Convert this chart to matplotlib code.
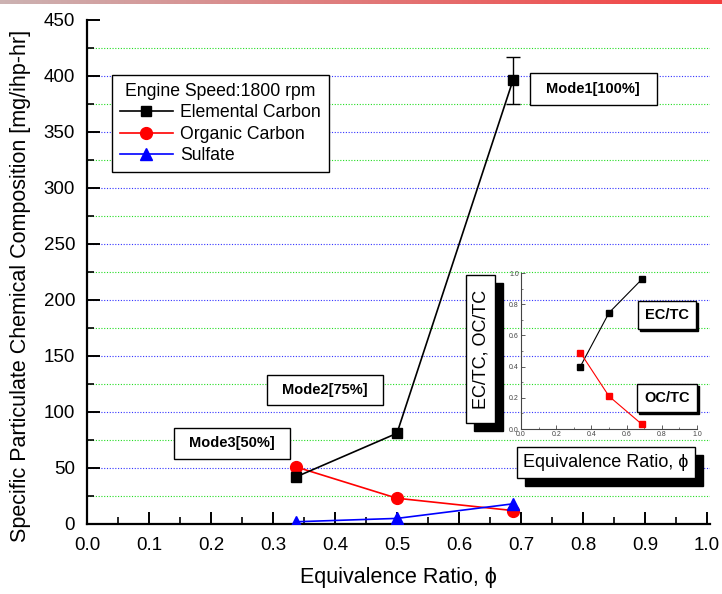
import numpy as np
import matplotlib
matplotlib.use("Agg")
import matplotlib.pyplot as plt
from matplotlib.patches import Rectangle
from matplotlib.ticker import MultipleLocator

plt.rcParams['font.family'] = ['Liberation Sans', 'DejaVu Sans']

# ---------------- data ----------------
phi = [0.337, 0.500, 0.687]
elemental_carbon = [42, 81, 396]
ec_err = [0, 0, 21]
organic_carbon = [51, 23, 12]
sulfate = [2, 5, 18]

ec_tc = [0.40, 0.745, 0.96]
oc_tc = [0.49, 0.21, 0.03]

mode_labels = ["Mode3[50%]", "Mode2[75%]", "Mode1[100%]"]

W, H = 722, 594
fig = plt.figure(figsize=(W / 100, H / 100), dpi=100)


def fx(px):
    return px / W


def fy(py):
    return 1 - py / H


# gradient header bar
gax = fig.add_axes([0, fy(4), 1, 4 / H])
grad = np.linspace(0, 1, 256)
c0 = np.array([0.80, 0.70, 0.70])
c1 = np.array([0.96, 0.25, 0.25])
img = (c0[None, :] * (1 - grad[:, None]) + c1[None, :] * grad[:, None])[None, :, :]
gax.imshow(img, aspect='auto', extent=[0, 1, 0, 1])
gax.axis('off')

# ---------------- main axes ----------------
ax = fig.add_axes([fx(87), fy(524), fx(710) - fx(87), fy(20) - fy(524)])
ax.set_xlim(0, 1.005)
ax.set_ylim(0, 450)

for v in np.arange(25, 450, 50):
    ax.axhline(v, color='#22dd22', lw=0.8, ls=(0, (1, 1.5)), zorder=0)
for v in np.arange(50, 450, 50):
    ax.axhline(v, color='#3333ff', lw=0.8, ls=(0, (1, 1.5)), zorder=0)

ax.plot(phi, elemental_carbon, color='black', marker='s', ms=7.5, lw=1.2,
        label='Elemental Carbon', zorder=4)
ax.errorbar(phi[2:], elemental_carbon[2:], yerr=ec_err[2:], fmt='none',
            ecolor='black', elinewidth=1.0, capsize=5, capthick=1.0, zorder=3)
ax.plot(phi, organic_carbon, color='red', marker='o', ms=8.5, lw=1.2,
        label='Organic Carbon', zorder=3)
ax.plot(phi, sulfate, color='blue', marker='^', ms=8.5, lw=1.2,
        label='Sulfate', zorder=5)

for s in ['top', 'right']:
    ax.spines[s].set_visible(False)
for s in ['left', 'bottom']:
    ax.spines[s].set_linewidth(1.6)

ax.xaxis.set_major_locator(MultipleLocator(0.1))
ax.xaxis.set_minor_locator(MultipleLocator(0.05))
ax.yaxis.set_major_locator(MultipleLocator(50))
ax.yaxis.set_minor_locator(MultipleLocator(25))
ax.set_xticks(np.round(np.arange(0, 1.01, 0.1), 1))
ax.set_xticklabels([f"{v:.1f}" for v in np.arange(0, 1.01, 0.1)])
ax.tick_params(which='major', direction='in', length=9, width=1.4, labelsize=13.5)
ax.tick_params(which='minor', direction='in', length=5, width=1.2)
ax.tick_params(axis='x', pad=9.5)
ax.tick_params(axis='y', pad=8.5)

ax.set_xlabel('Equivalence Ratio, \u03d5', fontsize=15.5, labelpad=9)
ax.set_ylabel('Specific Particulate Chemical Composition [mg/ihp-hr]', fontsize=15.5)
ax.yaxis.set_label_coords(-0.09, 0.472)

leg = ax.legend(title='Engine Speed:1800 rpm', loc='upper left',
                bbox_to_anchor=(fx(112), fy(75)), bbox_transform=fig.transFigure,
                borderaxespad=0, fancybox=False, edgecolor='black', framealpha=1,
                fontsize=12.7, title_fontsize=12.7, handlelength=3.0, labelspacing=0.25,
                handletextpad=0.4, borderpad=0.45)
leg.get_frame().set_linewidth(1.0)
leg.set_zorder(6)


def boxed(cx, cy, w, h, text, size, bold=False, shadow=0, rot=0):
    if shadow:
        fig.patches.append(Rectangle((fx(cx - w / 2 + shadow), fy(cy + h / 2 + shadow)),
                                     w / W, h / H, transform=fig.transFigure,
                                     facecolor='black', edgecolor='black', zorder=8))
    fig.patches.append(Rectangle((fx(cx - w / 2), fy(cy + h / 2)), w / W, h / H,
                                 transform=fig.transFigure, facecolor='white',
                                 edgecolor='black', lw=1.0, zorder=9))
    fig.text(fx(cx), fy(cy), text, ha='center', va='center', fontsize=size,
             fontweight='bold' if bold else 'normal', rotation=rot, zorder=10)


# mode boxes (main plot)
boxed(232, 443, 116, 31, mode_labels[0], 10.5, bold=True)
boxed(325, 390, 116, 30, mode_labels[1], 10.5, bold=True)
boxed(593, 89, 127, 31, mode_labels[2], 10.5, bold=True)

# ---------------- inset ----------------
ins = fig.add_axes([fx(521), fy(429), fx(697) - fx(521), fy(273) - fy(429)])
ins.set_xlim(0, 1)
ins.set_ylim(0, 1)
ins.patch.set_alpha(0)
ins.plot(phi, ec_tc, color='black', marker='s', ms=4, lw=0.8)
ins.plot(phi, oc_tc, color='red', marker='s', ms=4, lw=0.8)
for s in ['top', 'right']:
    ins.spines[s].set_visible(False)
for s in ['left', 'bottom']:
    ins.spines[s].set_linewidth(0.8)
    ins.spines[s].set_color('#444444')
ins.xaxis.set_major_locator(MultipleLocator(0.2))
ins.xaxis.set_minor_locator(MultipleLocator(0.1))
ins.yaxis.set_major_locator(MultipleLocator(0.2))
ins.yaxis.set_minor_locator(MultipleLocator(0.1))
ins.set_xticks(np.round(np.arange(0, 1.01, 0.2), 1))
ins.set_xticklabels([f"{v:.1f}" for v in np.arange(0, 1.01, 0.2)])
ins.set_yticks(np.round(np.arange(0, 1.01, 0.2), 1))
ins.set_yticklabels([f"{v:.1f}" for v in np.arange(0, 1.01, 0.2)])
ins.tick_params(which='major', direction='in', length=3, width=0.6, labelsize=5,
                colors='#444444', pad=1.5)
ins.tick_params(which='minor', direction='in', length=1.5, width=0.5, colors='#444444')

boxed(480.5, 349, 29, 148, 'EC/TC, OC/TC', 13, shadow=8, rot=90)
boxed(606, 462.5, 178, 31, 'Equivalence Ratio, \u03d5', 13, shadow=8)
boxed(667, 315, 58, 28, 'EC/TC', 10.5, bold=True, shadow=2)
boxed(667, 398, 60, 28, 'OC/TC', 10.5, bold=True, shadow=2)

fig.savefig('out.png', dpi=100)
